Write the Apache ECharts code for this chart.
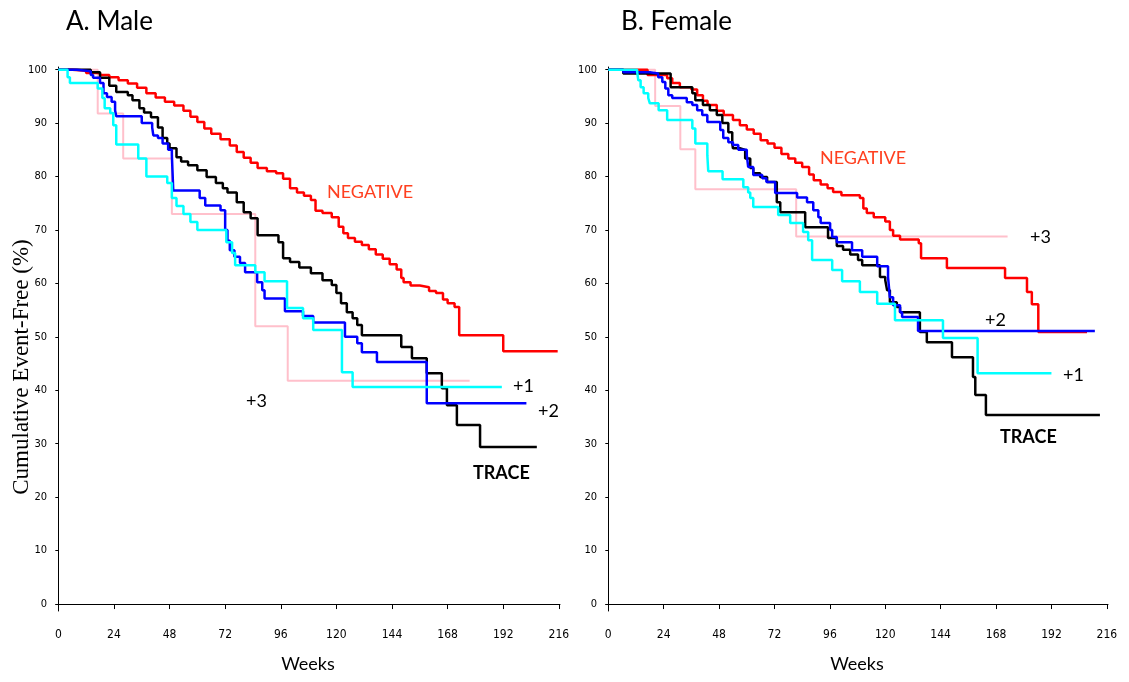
<!DOCTYPE html>
<html>
<head>
<meta charset="utf-8">
<script src="https://cdn.jsdelivr.net/npm/echarts@6/dist/echarts.min.js"></script>
<style>
  html, body { margin: 0; padding: 0; background: #fff; }
  #chart { width: 1129px; height: 682px; }
</style>
</head>
<body>
<div id="chart"></div>
<script>
// tick labels
const weekTicks = [0, 24, 48, 72, 96, 120, 144, 168, 192, 216];
const pctTicks = [0, 10, 20, 30, 40, 50, 60, 70, 80, 90, 100];
const panelTitles = ['A. Male', 'B. Female'];

// Kaplan-Meier steps: [week, event-free %]
const maleNegative = [[0,100],[6,99.8],[12,99.4],[18,99],[22,98.6],[26,98],[30,97.4],[34,96.6],[38,95.6],[42,94.8],[46,94],[50,93.3],[54,92.3],[57,91.2],[60,90.2],[63,89],[66,88],[70,87],[74,85.8],[77,84.6],[80,83.5],[83,82.6],[86,81.6],[90,81],[94,80.6],[97,79.6],[100,77.8],[103,77],[106,76.4],[109,75.6],[111,73.6],[114,73.2],[118,72.4],[121,70.6],[123,69.4],[125,68.5],[128,67.8],[131,67.2],[134,66.4],[137,65.4],[140,64.6],[143,63.6],[146,62.6],[148,61],[149,60.2],[152,59.6],[156,59.3],[160,58.6],[163,58.2],[166,57],[168,56.3],[171,55.6],[173,50.3],[192,47.3],[215.5,47.3]];
const maleTrace = [[0,100],[14,99.5],[18,98.5],[22,97],[25,95.8],[30,95.2],[32,94.3],[35,92.8],[37,92],[40,91.1],[43,89.2],[45,87.2],[47,86.2],[48,85.3],[51,83.6],[53,82.8],[56,82.1],[60,81.2],[64,79.9],[68,78.8],[71,77.8],[73,77],[77,75.2],[80,73.3],[83,72.2],[86,69],[95,67.7],[97,64.7],[100,64],[104,63],[109,61.9],[114,60.6],[118,59.7],[120,58.2],[122,56.3],[124.5,54.6],[127,53.5],[129,52.2],[131,50.3],[148,48.1],[152.6,46],[159,43.2],[165.5,40.4],[167.7,37.2],[172,33.5],[182,29.4],[206.5,29.4]];
const malePlus2 = [[0,100],[8,99.7],[14,99],[15,98.5],[18,97.5],[19.5,95.6],[21,94.9],[23,94],[24.5,92.4],[25,91.3],[36,90],[40.5,89.2],[41,87.7],[43,87.2],[45,86.2],[47.4,85],[49,84],[49.6,77.4],[61,76],[63.4,74.6],[70,73.7],[72,70],[73,68],[74,66.2],[76,65],[78.4,63.8],[80.6,62.1],[85.8,60.2],[88,58.7],[89,57.2],[97.8,54.8],[105.6,53.9],[110,52.7],[123.7,50],[129,48.8],[131,47.1],[137.5,45.3],[159,37.6],[202,37.6]];
const malePlus1 = [[0,100],[4,98.6],[5,97.5],[17,96.5],[19,94.7],[20,92.8],[22.4,91.9],[23.7,89.6],[25,86],[34.5,83.4],[38,80],[47,78.8],[49,76],[51,74.5],[54,73],[57,71.5],[60,70],[72.5,67.7],[75,65.7],[76.3,63.4],[85,62.1],[89,60.4],[98.7,55.4],[105.6,53.5],[110,51.3],[122.4,43.4],[127,40.6],[191.4,40.6]];
const malePlus3 = [[0,100],[17,91.8],[28,83.4],[49,73],[85,52],[99,41.8],[177.5,41.8]];

const femaleNegative = [[0,100],[17,99],[25.5,98.4],[27.7,97.5],[31,96.7],[36,96.3],[38.5,95.2],[41,94.2],[43,93.4],[47,92.3],[50,91.5],[54,90.6],[57,89.6],[60,88.8],[63,88],[66,86.8],[69,86.2],[72,85.4],[75,84.2],[78,83.4],[81,82.6],[84,81.8],[87,80.4],[89,79.3],[92,78.5],[95,77.8],[97.4,77.1],[101,76.5],[109,76],[110.5,74],[112,73.2],[115,72.4],[120,71.6],[122,70],[123.4,68.9],[126.4,68.2],[134.5,67.5],[135.5,64.7],[146.7,62.9],[171.9,61],[181.4,58.4],[183.5,56.1],[186.3,50.9],[207.4,50.9]];
const femaleTrace = [[0,100],[6.5,99.3],[27,96.7],[36.4,95.6],[37.7,94.3],[41,93.4],[44,92.4],[47,91.5],[49.4,90],[52,88.3],[53.7,86.2],[54,85.3],[57,85],[59.3,83.4],[61.5,81.6],[62.8,80.6],[65.8,79.9],[68.8,79],[73,75.2],[74.5,73.3],[85.3,70.5],[95.2,68.5],[99,67],[101.7,66.3],[104.8,65.4],[108.2,64.4],[110,63.4],[117.7,61.2],[120,60.6],[120.8,58.7],[122,56.5],[125,55.6],[126.4,54.6],[135,50.9],[138,49],[148.9,46.2],[158,42.5],[159,39.1],[163.6,35.4],[213,35.4]];
const femalePlus2 = [[0,100],[6.5,99.5],[18,99.3],[21.6,98.6],[23.4,97.7],[24.7,96.5],[26,95.2],[27.7,94.7],[34,93.9],[36.4,93.4],[38.5,92.4],[40.7,91.5],[42.9,90.2],[48.5,88.7],[49.8,87.2],[52,86.4],[54,85.9],[56.3,85],[60,84],[60.6,81.8],[62.8,80.3],[66.7,79.7],[68.5,79],[72.3,76.9],[81.8,76.1],[86.1,75.2],[88.8,73.7],[91,72.4],[92,71.3],[96.1,70],[97,68.7],[99,67.7],[105.6,66.2],[110,65],[116.5,63.2],[121.2,61.2],[122,57.4],[123.4,55.9],[126.4,54.6],[127.3,53.7],[134.2,51.1],[210.8,51.1]];
const femalePlus1 = [[0,100],[12.5,99.6],[13,98],[14,96.7],[15.3,95.6],[17.3,94.7],[18,93.7],[21.8,92.4],[25.5,90.6],[36.4,89],[37.7,86.2],[42.9,84],[43.3,81],[49.5,79.5],[58.5,78],[60.6,77],[61.5,76],[62.8,74.3],[73.6,72.8],[78.8,71.3],[84.4,69.6],[86.6,68.1],[88.3,64.4],[97,62.5],[101.3,60.4],[109,58.4],[116.5,56.2],[124.2,53.1],[145,49.8],[160,43.2],[192,43.2]];
const femalePlus3 = [[0,100],[20.3,93.2],[31.2,85.1],[37.7,77.6],[81.4,68.8],[173,68.8]];

const colors = { neg: '#ff0000', trace: '#000000', plus1: '#00ffff', plus2: '#0000ff', plus3: '#ffc0cb' };
const labelFont = 'Lato, "Open Sans", sans-serif';
const tickFont = '"Liberation Sans Narrow", "DejaVu Sans Condensed", sans-serif';

function kmSeries(data, color, grid, width) {
  return {
    type: 'line', step: 'end', data: data,
    xAxisIndex: grid, yAxisIndex: grid,
    showSymbol: false, symbol: 'none',
    lineStyle: { color: color, width: width || 2.5 },
    z: 2
  };
}

function xAx(grid) {
  return {
    type: 'value', gridIndex: grid, min: -1, max: 216.5,
    name: 'Weeks', nameLocation: 'middle', nameGap: 44,
    nameTextStyle: { fontFamily: labelFont, fontSize: 18, color: '#000' },
    axisLine: { show: true, lineStyle: { color: '#000', width: 1 } },
    axisTick: { show: true, length: 5, customValues: weekTicks, lineStyle: { color: '#000' } },
    axisLabel: { customValues: weekTicks, margin: 18, fontFamily: tickFont, fontSize: 12, color: '#000' },
    splitLine: { show: false }
  };
}

function yAx(grid) {
  return {
    type: 'value', gridIndex: grid, min: -1.3, max: 100.5,
    axisLine: { show: true, lineStyle: { color: '#000', width: 1 } },
    axisTick: { show: true, length: 3, customValues: pctTicks, lineStyle: { color: '#000' } },
    axisLabel: { customValues: pctTicks, margin: 9, fontFamily: tickFont, fontSize: 11, color: '#000' },
    splitLine: { show: false }
  };
}

function txt(x, y, s, color, bold) {
  return {
    type: 'text', x: x, y: y,
    style: { text: s, fill: color || '#000', font: (bold ? 'bold ' : '') + '18px ' + labelFont, verticalAlign: 'middle' }
  };
}

const option = {
  animation: false,
  backgroundColor: '#fff',
  title: [
    { text: panelTitles[0], left: 61, top: 4, textStyle: { fontFamily: labelFont, fontSize: 26, fontWeight: 'normal', color: '#000' } },
    { text: panelTitles[1], left: 616, top: 4, textStyle: { fontFamily: labelFont, fontSize: 26, fontWeight: 'normal', color: '#000' } }
  ],
  grid: [
    { left: 56, right: 569, top: 67, bottom: 71 },
    { left: 606, right: 21, top: 67, bottom: 71 }
  ],
  xAxis: [xAx(0), xAx(1)],
  yAxis: [yAx(0), yAx(1)],
  series: [
    kmSeries(malePlus3, colors.plus3, 0, 2),
    kmSeries(maleNegative, colors.neg, 0),
    kmSeries(maleTrace, colors.trace, 0),
    kmSeries(malePlus2, colors.plus2, 0),
    kmSeries(malePlus1, colors.plus1, 0),
    kmSeries(femalePlus3, colors.plus3, 1, 2),
    kmSeries(femaleNegative, colors.neg, 1),
    kmSeries(femaleTrace, colors.trace, 1),
    kmSeries(femalePlus2, colors.plus2, 1),
    kmSeries(femalePlus1, colors.plus1, 1)
  ],
  graphic: [
    {
      type: 'text', x: 22, y: 367, rotation: Math.PI / 2,
      style: { text: 'Cumulative Event-Free (%)', fill: '#000', font: '23px "Liberation Serif", serif', align: 'center', verticalAlign: 'middle' }
    },
    txt(327, 192, 'NEGATIVE', '#ff4020'),
    txt(513, 386, '+1'),
    txt(538, 411, '+2'),
    txt(246, 401, '+3'),
    txt(473, 473, 'TRACE', '#000', true),
    txt(820, 158, 'NEGATIVE', '#ff4020'),
    txt(1030, 237, '+3'),
    txt(985, 320, '+2'),
    txt(1063, 375, '+1'),
    txt(1000, 437, 'TRACE', '#000', true)
  ]
};

const chart = echarts.init(document.getElementById('chart'));
chart.setOption(option);
</script>
</body>
</html>
